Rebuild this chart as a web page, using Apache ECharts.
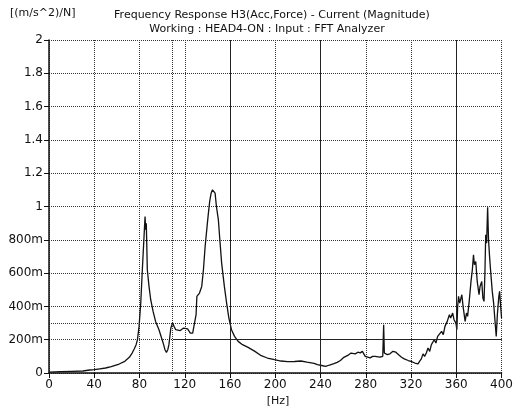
<!DOCTYPE html>
<html>
<head>
<meta charset="utf-8">
<script src="https://cdn.jsdelivr.net/npm/echarts@6/dist/echarts.min.js"></script>
<style>
  html, body { margin: 0; padding: 0; background: #fff; }
  #main { width: 516px; height: 407px; }
</style>
</head>
<body>
<div id="main"></div>
<script>
// frequency [Hz] / magnitude [(m/s^2)/N]
var freqHz = [0, 10, 20, 30, 36, 40, 45, 50, 55, 62, 67, 71, 73.5, 75.3, 77, 78.2, 79.6, 81.1, 82.5, 84,
    84.9, 85.5, 86, 86.9, 88.4, 89.9, 92, 94.2, 97.2, 100.7, 102.5, 103.8, 105, 106, 107.7, 109.2, 110.5, 112, 116, 119,
    120.5, 122.5, 124.9, 127, 128.7, 130, 130.7, 133, 135, 136.5, 138, 140, 140.9, 142, 143.3, 144.5, 145.3, 146.8, 148, 149.7,
    151, 152.6, 155, 157, 159, 161.3, 164, 167.2, 171, 176, 182, 187.6, 193, 199.3, 205, 211, 217, 222.6, 228, 234.3,
    237.2, 241, 244.5, 248, 251.8, 254.7, 257.6, 260.6, 264.9, 267, 270.7, 273, 275.1, 277, 279.5, 281, 283.9, 286, 288.3, 290,
    292.6, 295, 295.8, 296.4, 297, 299, 301.4, 304, 306.6, 309, 311.6, 314, 317.5, 320, 323.3, 326.2, 327.5, 329.1, 330.6, 332,
    333.5, 335, 336.5, 338, 339.3, 340.5, 342, 343.5, 345.1, 347, 348.5, 350, 352, 353.9, 355, 356.8, 358, 359.7, 360.5, 361.2,
    362, 363, 364.9, 366, 367.8, 369, 370, 371.4, 373, 374.2, 375.2, 376, 377.2, 378.5, 380.1, 381, 382.5, 383.5, 384.5, 385.3,
    386, 386.8, 387.7, 388.5, 389.5, 390.5, 391.8, 393, 394, 395.3, 396.3, 397.6, 398.3, 399, 400];
var magnitude = [0.005, 0.008, 0.01, 0.012, 0.018, 0.02, 0.025, 0.03, 0.038, 0.054, 0.07, 0.094, 0.12, 0.144, 0.17, 0.2, 0.28, 0.42, 0.62, 0.82,
    0.94, 0.86, 0.9, 0.62, 0.52, 0.44, 0.37, 0.31, 0.26, 0.185, 0.14, 0.124, 0.14, 0.17, 0.27, 0.30, 0.28, 0.26, 0.255, 0.27,
    0.28, 0.265, 0.24, 0.24, 0.25, 0.35, 0.46, 0.48, 0.52, 0.62, 0.76, 0.9, 0.96, 1.03, 1.08, 1.1, 1.105, 1.08, 1.0, 0.92,
    0.8, 0.66, 0.52, 0.42, 0.33, 0.26, 0.22, 0.19, 0.17, 0.154, 0.13, 0.104, 0.09, 0.08, 0.072, 0.068, 0.069, 0.072, 0.065, 0.058,
    0.05, 0.045, 0.04, 0.048, 0.056, 0.064, 0.075, 0.094, 0.109, 0.12, 0.115, 0.125, 0.121, 0.13, 0.10, 0.11, 0.091, 0.1, 0.10, 0.09,
    0.095, 0.1, 0.29, 0.12, 0.125, 0.11, 0.115, 0.13, 0.125, 0.11, 0.095, 0.085, 0.075, 0.07, 0.06, 0.055, 0.07, 0.085, 0.115, 0.1,
    0.12, 0.15, 0.13, 0.17, 0.174, 0.2, 0.18, 0.22, 0.234, 0.25, 0.23, 0.28, 0.31, 0.35, 0.33, 0.36, 0.32, 0.30, 0.26, 0.4,
    0.46, 0.42, 0.47, 0.4, 0.31, 0.36, 0.34, 0.43, 0.55, 0.62, 0.71, 0.65, 0.67, 0.55, 0.47, 0.52, 0.55, 0.45, 0.43, 0.6,
    0.83, 0.78, 0.995, 0.8, 0.69, 0.6, 0.49, 0.42, 0.33, 0.22, 0.35, 0.46, 0.49, 0.42, 0.33];

var solidX = [160, 240, 360];      // darker vertical grid lines
var cursorX = 108.5, cursorY = 0.3; // dotted cursor lines

var pts = [];
for (var i = 0; i < freqHz.length; i++) pts.push([freqHz[i], magnitude[i]]);

var font = 'DejaVu Sans';
var myChart = echarts.init(document.getElementById('main'));

var marks = [];
solidX.forEach(function (x) { marks.push({ xAxis: x, lineStyle: { type: 'solid', color: '#222', width: 1 } }); });
marks.push([{ coord: [110, 0.2] }, { coord: [400, 0.2], lineStyle: { type: 'solid', color: '#222', width: 1 } }]);
marks.push({ xAxis: cursorX, lineStyle: { type: 'dotted', color: '#333', width: 1 } });
marks.push({ yAxis: cursorY, lineStyle: { type: 'dotted', color: '#333', width: 1 } });

option = {
    backgroundColor: '#fff',
    animation: false,
    textStyle: { fontFamily: font },
    grid: { left: 49, right: 10, top: 40, bottom: 34 },
    graphic: [
        { type: 'text', left: 10, top: 8, style: { text: '[(m/s^2)/N]', font: '11px ' + font, fill: '#111' } },
        { type: 'text', x: 272, y: 15, style: { text: 'Frequency Response H3(Acc,Force) - Current (Magnitude)', font: '11px ' + font, fill: '#111', textAlign: 'center', textVerticalAlign: 'middle' } },
        { type: 'text', x: 267, y: 29, style: { text: 'Working : HEAD4-ON : Input : FFT Analyzer', font: '11px ' + font, fill: '#111', textAlign: 'center', textVerticalAlign: 'middle' } },
        { type: 'text', x: 278, y: 401, style: { text: '[Hz]', font: '11px ' + font, fill: '#111', textAlign: 'center', textVerticalAlign: 'middle' } }
    ],
    xAxis: {
        type: 'value',
        min: 0, max: 400, interval: 40,
        axisLine: { onZero: false, lineStyle: { color: '#111', width: 1.5 } },
        axisTick: { length: 5, lineStyle: { color: '#111' } },
        axisLabel: { color: '#111', fontSize: 12, margin: 6 },
        splitLine: { show: true, lineStyle: { type: 'dotted', color: '#333' } }
    },
    yAxis: {
        type: 'value',
        min: 0, max: 2, interval: 0.2,
        axisLine: { show: true, lineStyle: { color: '#111', width: 1.5 } },
        axisTick: { show: true, length: 5, lineStyle: { color: '#111' } },
        axisLabel: {
            color: '#111', fontSize: 12, margin: 6,
            formatter: function (v) {
                if (v === 0) return '0';
                if (v < 1) return Math.round(v * 1000) + 'm';
                return String(Math.round(v * 10) / 10);
            }
        },
        splitLine: { show: true, lineStyle: { type: 'dotted', color: '#333' } }
    },
    series: [
        {
            type: 'line',
            data: pts,
            showSymbol: false,
            lineStyle: { color: '#111', width: 1.3 },
            markLine: { silent: true, symbol: 'none', label: { show: false }, data: marks }
        }
    ]
};
myChart.setOption(option, true);
</script>
</body>
</html>
